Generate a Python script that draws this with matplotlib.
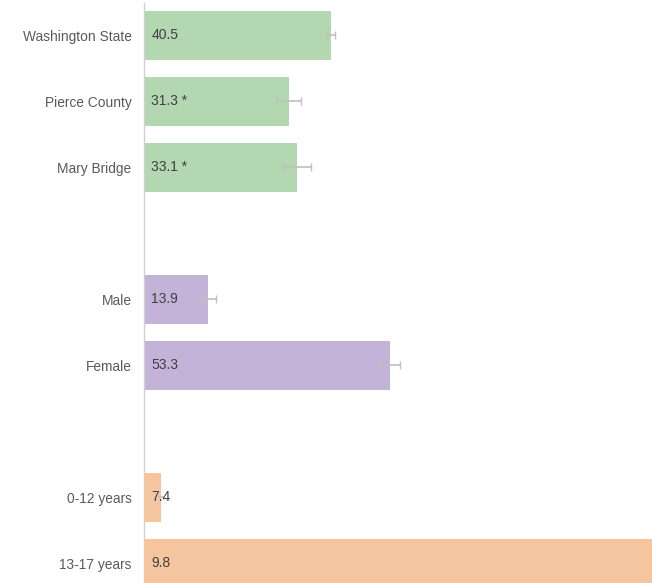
import matplotlib.pyplot as plt

plt.rcParams['font.family'] = ['Liberation Sans', 'DejaVu Sans']

# rates by comparison group
region_labels = ['Washington State', 'Pierce County', 'Mary Bridge']
region_values = [40.5, 31.3, 33.1]
region_err = [0.9, 2.6, 3.0]
region_text = ['40.5', '31.3 *', '33.1 *']

sex_labels = ['Male', 'Female']
sex_values = [13.9, 53.3]
sex_err = [1.65, 2.1]
sex_text = ['13.9', '53.3']

age_labels = ['0-12 years', '13-17 years']
age_values = [7.4, 9.8]
age_err = [0.012, 0.0]
age_text = ['7.4', '9.8']

green = '#b2d7b1'
purple = '#c4b3d8'
orange = '#f5c59f'
err_color = '#c0c0c0'
text_color = '#404040'

fig = plt.figure(figsize=(6.52, 5.83), dpi=100)
ax = fig.add_axes([144 / 652, 0, 508 / 652, 580 / 583])
ax_age = ax.twiny()

bar_h = 0.74
region_pos = [0, 1, 2]
sex_pos = [4, 5]
age_pos = [7, 8]

ax.barh(region_pos, region_values, height=bar_h, color=green, zorder=2)
ax.barh(sex_pos, sex_values, height=bar_h, color=purple, zorder=2)
ax.errorbar(region_values, region_pos, xerr=region_err, fmt='none',
            ecolor=err_color, elinewidth=1.2, capsize=3, zorder=3)
ax.errorbar(sex_values, sex_pos, xerr=sex_err, fmt='none',
            ecolor=err_color, elinewidth=1.2, capsize=3, zorder=3)

# age group uses its own zoomed scale
ax_age.barh(age_pos, age_values, height=bar_h, color=orange, zorder=2)
ax_age.errorbar(age_values[:1], age_pos[:1], xerr=age_err[:1], fmt='none',
                ecolor=err_color, elinewidth=1.2, capsize=0, zorder=3)

ax.set_xlim(0, 110)
ax_age.set_xlim(7.33, 9.42)
ax.set_ylim(8.296, -0.492)

# value labels sit on the top axes so every bar group shows them
lbl_tf = ax_age.get_yaxis_transform()
for pos, txt in zip(region_pos + sex_pos + age_pos,
                    region_text + sex_text + age_text):
    ax_age.text(0.0145, pos, txt, transform=lbl_tf, va='center', ha='left',
                fontsize=10, color=text_color, zorder=4)

ax.set_yticks(region_pos + sex_pos + age_pos)
ax.set_yticklabels(region_labels + sex_labels + age_labels, fontsize=9.9,
                   color='#595959')
ax.tick_params(axis='y', length=0, pad=9)
ax.set_xticks([])
ax_age.set_xticks([])

for a in (ax, ax_age):
    for side in ('top', 'right', 'bottom', 'left'):
        a.spines[side].set_visible(False)
ax.spines['left'].set_visible(True)
ax.spines['left'].set_color('#d0d0d0')
ax.spines['left'].set_linewidth(1.0)

fig.savefig('out.png', dpi=100)
